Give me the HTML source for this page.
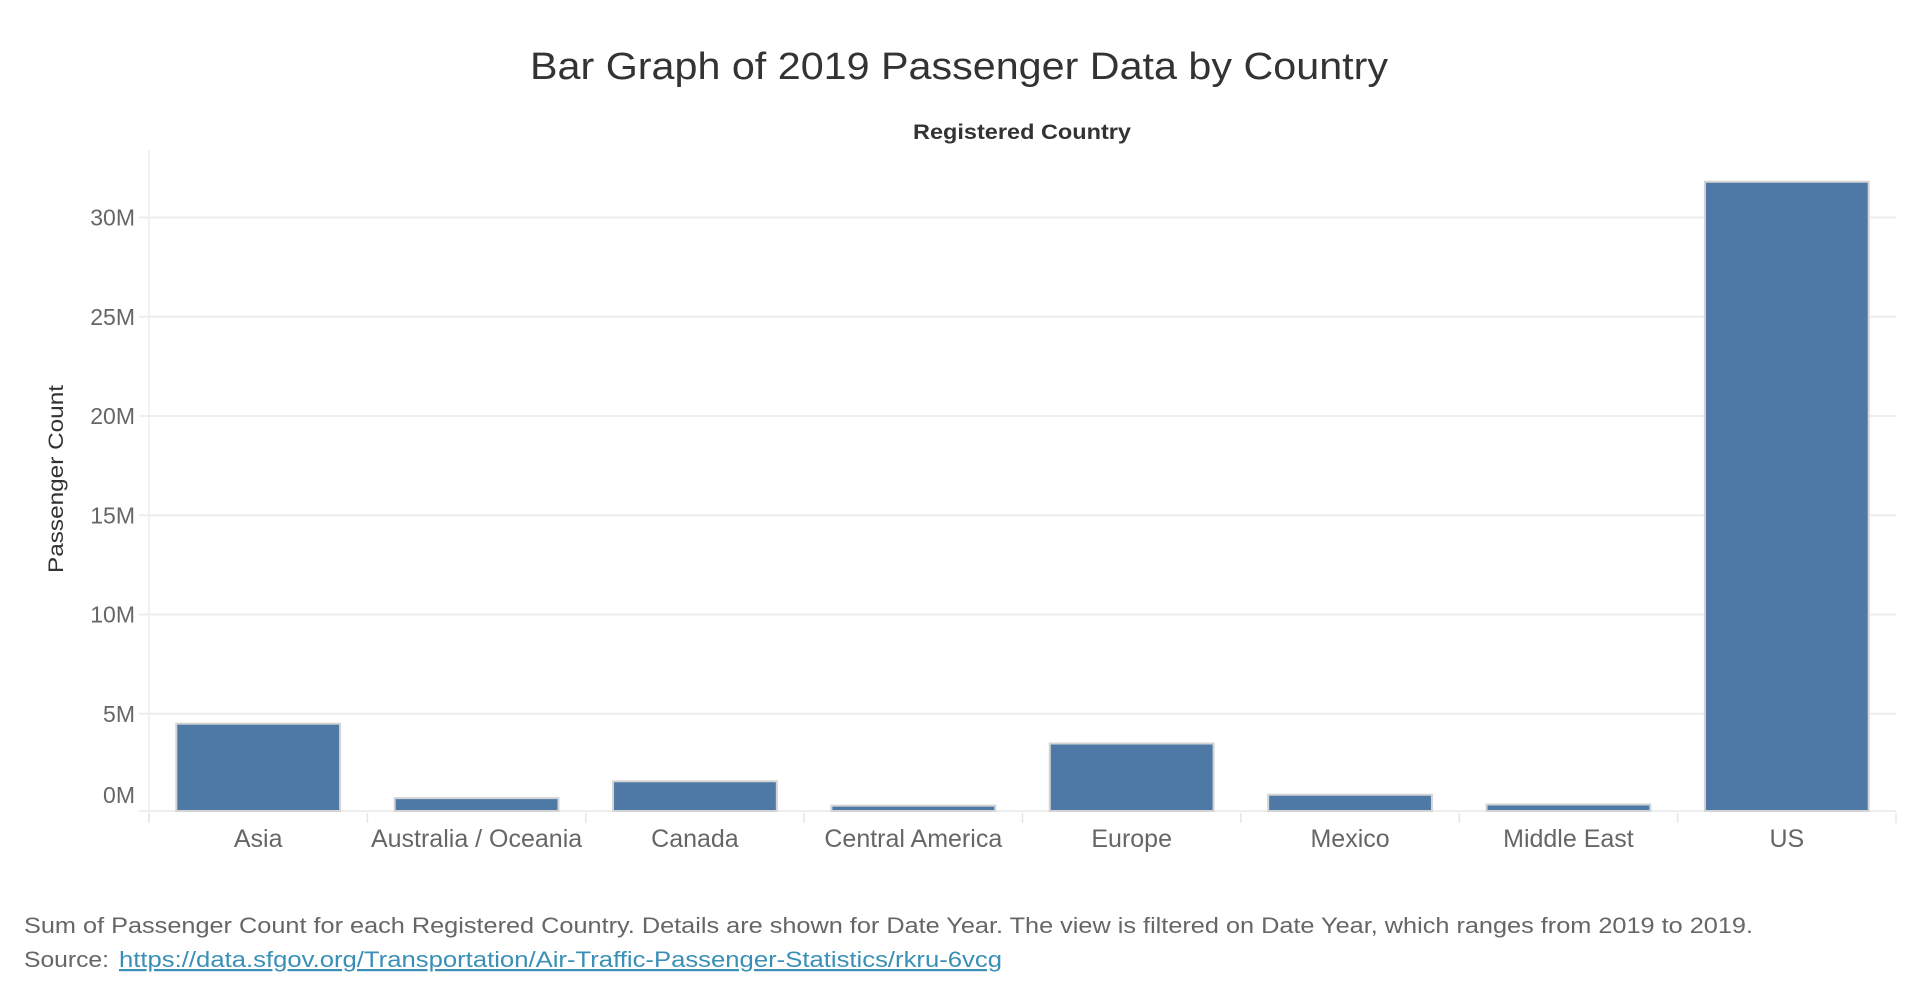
<!DOCTYPE html>
<html><head><meta charset="utf-8"><style>
html,body{margin:0;padding:0;background:#fff;width:1920px;height:1000px;overflow:hidden}
svg{display:block;font-family:"Liberation Sans",sans-serif}
</style></head><body>
<svg id="chart" width="1920" height="1000">
<text x="959" y="79" text-anchor="middle" font-size="38" fill="#333" textLength="858" lengthAdjust="spacingAndGlyphs">Bar Graph of 2019 Passenger Data by Country</text>
<text x="1022" y="139" text-anchor="middle" font-size="21" font-weight="bold" fill="#333" textLength="218" lengthAdjust="spacingAndGlyphs">Registered Country</text>
<text transform="translate(63,479) rotate(-90)" text-anchor="middle" font-size="21" fill="#333" textLength="188" lengthAdjust="spacingAndGlyphs">Passenger Count</text>
<g id="grid"></g><g id="bars"></g><g id="xlabels"></g><g id="ylabels"></g>
<text x="24" y="933" font-size="22" fill="#666" textLength="1729" lengthAdjust="spacingAndGlyphs">Sum of Passenger Count for each Registered Country.  Details are shown for Date Year. The view is filtered on Date Year, which ranges from 2019 to 2019.</text>
<text x="24" y="967" font-size="22" fill="#666" textLength="85" lengthAdjust="spacingAndGlyphs">Source:</text>
<text x="119" y="967" font-size="22" fill="#3a8fb7" text-decoration="underline" textLength="883" lengthAdjust="spacingAndGlyphs">https://data.sfgov.org/Transportation/Air-Traffic-Passenger-Statistics/rkru-6vcg</text>
</svg>
<script>
const categories = ["Asia","Australia / Oceania","Canada","Central America","Europe","Mexico","Middle East","US"];
const passengers = [4.5, 0.75, 1.6, 0.37, 3.5, 0.92, 0.43, 31.8];
const yTicks = [0, 5, 10, 15, 20, 25, 30];
const yTickLabels = ["0M","5M","10M","15M","20M","25M","30M"];

const NS = "http://www.w3.org/2000/svg";
const left = 149, right = 1896, y0 = 813, pxPerM = 19.85;
const band = (right - left) / categories.length;
const xPos = i => left + band * i;
const yPos = v => y0 - v * pxPerM;
function mk(tag, attrs, parent){const e=document.createElementNS(NS,tag);for(const k in attrs)e.setAttribute(k,attrs[k]);parent.appendChild(e);return e;}

const grid = document.getElementById("grid");
yTicks.forEach((t,i)=>{
  if(t===0) return;
  const l = mk("line",{x1:left-10,x2:right,y1:yPos(t),y2:yPos(t),stroke:"#eeeeee","stroke-width":2},grid);
  
  
});
const ax = mk("line",{x1:left,x2:left,y1:150,y2:822,stroke:"#eeeeee","stroke-width":1.5},grid);


const base = mk("line",{x1:left-10,x2:right,y1:y0-2,y2:y0-2,stroke:"#eeeeee","stroke-width":2},grid);


for(let i=0;i<=categories.length;i++){
  const tk = mk("line",{x1:xPos(i),x2:xPos(i),y1:y0,y2:y0+10,stroke:"#e6e6e6","stroke-width":1.5},grid);
  
  
}

const ylab = document.getElementById("ylabels");
yTicks.forEach((t,i)=>{
  const yy = t===0 ? yPos(t)-10 : yPos(t)+8;
  const tx = mk("text",{x:135,y:yy,"text-anchor":"end","font-size":23,fill:"#666"},ylab);
  tx.textContent = yTickLabels[i];
  
  
});

const bars = document.getElementById("bars");
const xl = document.getElementById("xlabels");
const bw = band * 0.75;
categories.forEach((c,i)=>{
  const cx = xPos(i) + band/2;
  const top = yPos(passengers[i]);
  const r = mk("rect",{x:cx-bw/2,y:top,width:bw,height:(y0-2)-top,fill:"#4e79a7",stroke:"#d4d4d4","stroke-width":2},bars);
  
  
  const t = mk("text",{x:cx,y:847,"text-anchor":"middle","font-size":25,fill:"#666"},xl);
  t.textContent = c;
  
  
});
</script>
</body></html>
